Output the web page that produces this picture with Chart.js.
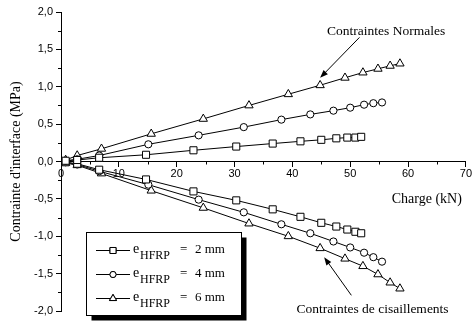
<!DOCTYPE html>
<html>
<head>
<meta charset="utf-8">
<script src="https://cdn.jsdelivr.net/npm/chart.js@4/dist/chart.umd.min.js"></script>
<style>
  html, body { margin: 0; padding: 0; background: #fff; }
  #wrap { width: 473px; height: 324px; }
</style>
</head>
<body>
<div id="wrap"><canvas id="myChart" width="473" height="324"></canvas></div>
<script>
// charge (kN) for each series
const loadSq = [0.8, 2.8, 6.6, 14.7, 22.9, 30.3, 36.6, 41.4, 45.0, 47.6, 49.5, 50.9, 51.9]
const loadCi = [0.8, 2.8, 6.6, 15.1, 23.8, 31.6, 38.1, 43.1, 47.1, 50.0, 52.4, 54.0, 55.5]
const loadTr = [0.8, 2.8, 7.0, 15.6, 24.6, 32.5, 39.3, 44.8, 49.1, 52.2, 54.8, 56.9, 58.6]

// contraintes normales (MPa)
const normalSq = [0.01, 0.02, 0.05, 0.09, 0.15, 0.20, 0.24, 0.27, 0.29, 0.31, 0.32, 0.32, 0.33]
const normalCi = [0.01, 0.03, 0.08, 0.23, 0.35, 0.46, 0.56, 0.63, 0.68, 0.72, 0.76, 0.78, 0.79]
const normalTr = [0.02, 0.08, 0.17, 0.37, 0.57, 0.75, 0.90, 1.02, 1.12, 1.19, 1.24, 1.28, 1.31]

// contraintes de cisaillements (MPa)
const shearSq = [-0.01, -0.03, -0.11, -0.24, -0.40, -0.52, -0.64, -0.74, -0.82, -0.87, -0.91, -0.94, -0.96]
const shearCi = [-0.01, -0.04, -0.13, -0.31, -0.51, -0.68, -0.84, -0.96, -1.07, -1.15, -1.22, -1.28, -1.34]
const shearTr = [-0.02, -0.05, -0.16, -0.39, -0.62, -0.83, -1.00, -1.16, -1.30, -1.40, -1.51, -1.62, -1.70]

const seriesLabels = ['2 mm', '4 mm', '6 mm']
const xTicks = [0, 10, 20, 30, 40, 50, 60, 70]
const yTicks = [-2, -1.5, -1, -0.5, 0, 0.5, 1, 1.5, 2]

const serif = "'Liberation Serif', 'Times New Roman', serif"
const sans = "'Liberation Sans', Arial, sans-serif"

const styles = [
    {pointStyle: 'rect', radius: 5},
    {pointStyle: 'circle', radius: 3.6},
    {pointStyle: 'triangle', radius: 4.8}
]

const toPoints = (xs, ys) => xs.map((x, i) => ({x: x, y: ys[i]}))

const makeSet = (xs, ys, k) => ({
    data: toPoints(xs, ys),
    showLine: true,
    borderColor: '#000',
    borderWidth: 1,
    tension: 0,
    pointStyle: styles[k].pointStyle,
    pointRadius: styles[k].radius,
    pointBackgroundColor: '#fff',
    pointBorderColor: '#000',
    pointBorderWidth: 1
})

const datasets = [
    makeSet(loadSq, normalSq, 0),
    makeSet(loadCi, normalCi, 1),
    makeSet(loadTr, normalTr, 2),
    makeSet(loadSq, shearSq, 0),
    makeSet(loadCi, shearCi, 1),
    makeSet(loadTr, shearTr, 2)
]

const fmt = v => v.toFixed(1).replace('.', ',')

function arrow(ctx, x1, y1, x2, y2){
    const a = Math.atan2(y2 - y1, x2 - x1)
    ctx.beginPath()
    ctx.moveTo(x1, y1)
    ctx.lineTo(x2 - 4 * Math.cos(a), y2 - 4 * Math.sin(a))
    ctx.stroke()
    ctx.beginPath()
    ctx.moveTo(x2, y2)
    ctx.lineTo(x2 - 8 * Math.cos(a) + 3 * Math.sin(a), y2 - 8 * Math.sin(a) - 3 * Math.cos(a))
    ctx.lineTo(x2 - 8 * Math.cos(a) - 3 * Math.sin(a), y2 - 8 * Math.sin(a) + 3 * Math.cos(a))
    ctx.closePath()
    ctx.fill()
}

const extras = {
    id: 'extras',
    afterDraw(chart){
        const ctx = chart.ctx
        const sx = chart.scales.x
        const sy = chart.scales.y
        const y0 = sy.getPixelForValue(0)
        ctx.save()
        ctx.strokeStyle = '#000'
        ctx.fillStyle = '#000'
        ctx.lineWidth = 1

        // minor ticks
        ctx.beginPath()
        for (let v = 5; v < 70; v += 10){
            const px = Math.round(sx.getPixelForValue(v)) + 0.5
            ctx.moveTo(px, y0)
            ctx.lineTo(px, y0 + 3)
        }
        for (let v = -1.75; v < 2; v += 0.5){
            const py = Math.round(sy.getPixelForValue(v)) + 0.5
            const left = chart.chartArea.left
            ctx.moveTo(left, py)
            ctx.lineTo(left - 3, py)
        }
        ctx.stroke()

        // axis title for x
        ctx.font = '14px ' + serif
        ctx.textAlign = 'right'
        ctx.textBaseline = 'middle'
        ctx.fillText('Charge (kN)', sx.getPixelForValue(69.3), sy.getPixelForValue(-0.5))

        // annotations
        ctx.font = '13.5px ' + serif
        ctx.textAlign = 'left'
        ctx.fillText('Contraintes Normales', sx.getPixelForValue(46.0), sy.getPixelForValue(1.74))
        arrow(ctx, sx.getPixelForValue(51.6), sy.getPixelForValue(1.66),
                   sx.getPixelForValue(44.8), sy.getPixelForValue(1.12))
        ctx.fillText('Contraintes de cisaillements', sx.getPixelForValue(40.7), sy.getPixelForValue(-1.98))
        arrow(ctx, sx.getPixelForValue(50.2), sy.getPixelForValue(-1.79),
                   sx.getPixelForValue(45.5), sy.getPixelForValue(-1.28))

        // legend box with shadow
        const bx = 86.5, by = 232.5, bw = 155, bh = 83
        ctx.fillRect(bx + 5, by + 5, bw, bh)
        ctx.fillStyle = '#fff'
        ctx.fillRect(bx, by, bw, bh)
        ctx.strokeRect(bx, by, bw, bh)
        ctx.fillStyle = '#000'

        const rows = [250, 274, 298]
        rows.forEach((ry, k) => {
            ctx.beginPath()
            ctx.moveTo(96, ry + 0.5)
            ctx.lineTo(130, ry + 0.5)
            ctx.stroke()
            ctx.fillStyle = '#fff'
            Chart.helpers.drawPoint(ctx, {
                pointStyle: styles[k].pointStyle,
                radius: styles[k].radius * 0.85,
                borderWidth: 1
            }, 113, ry + 0.5)
            ctx.fill()
            ctx.stroke()
            ctx.fillStyle = '#000'
            ctx.textAlign = 'left'
            ctx.textBaseline = 'alphabetic'
            ctx.font = '14px ' + serif
            ctx.fillText('e', 133, ry + 3)
            ctx.font = '12px ' + serif
            ctx.fillText('HFRP', 140, ry + 9)
            ctx.font = '13px ' + serif
            ctx.fillText('= ', 180, ry + 3)
            ctx.fillText(seriesLabels[k], 195, ry + 3)
        })
        ctx.restore()
    }
}

const ctx = document.getElementById('myChart')

new Chart(ctx, {
    type: 'scatter',
    data: { datasets: datasets },
    options: {
        responsive: false,
        animation: false,
        events: [],
        layout: { padding: { top: 12, right: 6, bottom: 13, left: 0 } },
        plugins: {
            legend: { display: false },
            tooltip: { enabled: false }
        },
        scales: {
            x: {
                type: 'linear',
                position: { y: 0 },
                min: 0,
                max: 70,
                afterFit: scale => { scale.height = 0 },
                afterBuildTicks: scale => { scale.ticks = xTicks.map(v => ({value: v})) },
                grid: { drawOnChartArea: false, drawTicks: true, tickLength: 5, color: '#000' },
                border: { display: true, color: '#000', width: 1 },
                ticks: {
                    color: '#000',
                    padding: 1,
                    maxRotation: 0,
                    font: { family: sans, size: 11 },
                    callback: v => String(v)
                }
            },
            y: {
                type: 'linear',
                min: -2,
                max: 2,
                afterFit: scale => { scale.width = 61 },
                afterBuildTicks: scale => { scale.ticks = yTicks.map(v => ({value: v})) },
                grid: { drawOnChartArea: false, drawTicks: true, tickLength: 5, color: '#000' },
                border: { display: true, color: '#000', width: 1 },
                ticks: {
                    color: '#000',
                    padding: 3,
                    font: { family: sans, size: 11 },
                    callback: v => fmt(v)
                },
                title: {
                    display: true,
                    text: "Contrainte d'interface (MPa)",
                    color: '#000',
                    font: { family: serif, size: 14 },
                    padding: { top: 8, bottom: 0 }
                }
            }
        }
    },
    plugins: [extras]
})
</script>
</body>
</html>
